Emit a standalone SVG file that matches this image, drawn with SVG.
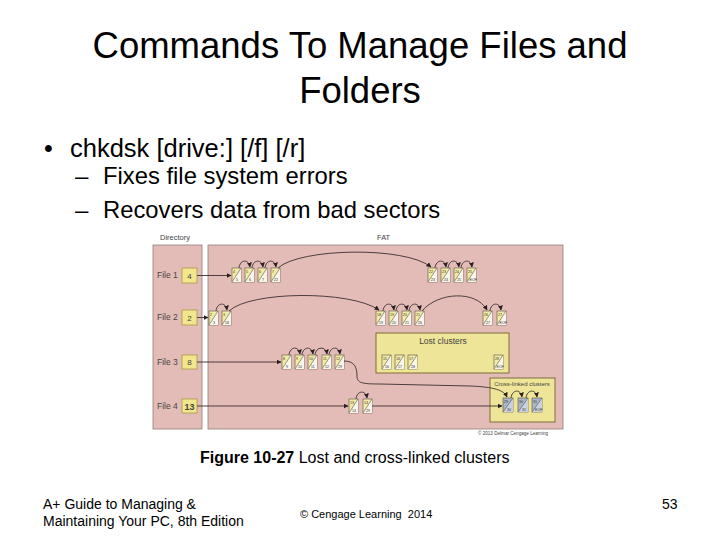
<svg xmlns="http://www.w3.org/2000/svg" width="720" height="540" viewBox="0 0 720 540">
<defs>
<style>
.t{font-family:"Liberation Sans",Arial,sans-serif;fill:#000}
.fig{font-family:"Liberation Sans",Arial,sans-serif;fill:#444}
.panel{fill:#e4bcb7;stroke:#8e7e7c;stroke-width:0.8}
.fbox{fill:#f2e68c;stroke:#a8984a;stroke-width:0.8}
.grp{fill:#efe598;stroke:#7d6f3a;stroke-width:1}
.cl rect{fill:#f3eba4;stroke:#6d6450;stroke-width:0.7}
.cl polygon{fill:#f8f6ea}
.cl line{stroke:#555;stroke-width:0.6}
.cl text{font-family:"Liberation Sans",Arial,sans-serif;font-size:3.6px;fill:#333}
.xl rect{fill:#aab5c9}
.xl polygon{fill:#c9d1de}
.con path{fill:none;stroke:#3a3030;stroke-width:0.9}
</style>
<marker id="ah" markerUnits="userSpaceOnUse" markerWidth="5" markerHeight="5" viewBox="0 0 10 10" refX="9" refY="5" orient="auto">
<path d="M0,0 L10,5 L0,10 z" fill="#2a2020"/>
</marker>
</defs>
<rect width="720" height="540" fill="#fff"/>

<g id="title">
<text class="t" x="360" y="58" font-size="36.5" text-anchor="middle">Commands To Manage Files and</text>
<text class="t" x="360" y="103" font-size="36.5" text-anchor="middle">Folders</text>
</g>
<g id="bullets">
<text class="t" x="44" y="157" font-size="25">•</text>
<text class="t" x="70" y="157" font-size="25.5">chkdsk [drive:] [/f] [/r]</text>
<text class="t" x="75" y="184" font-size="24">–</text>
<text class="t" x="103" y="184" font-size="23.8">Fixes file system errors</text>
<text class="t" x="75" y="218" font-size="24">–</text>
<text class="t" x="103" y="218" font-size="23.8">Recovers data from bad sectors</text>
</g>

<g id="figure">
<text class="fig" x="160" y="240" font-size="7.5">Directory</text>
<text class="fig" x="377" y="240" font-size="7.5">FAT</text>
<rect id="dirPanel" class="panel" x="153" y="245" width="49" height="184"/>
<rect id="fatPanel" class="panel" x="208" y="245" width="355" height="184"/>

<g id="lost">
<rect class="grp" x="376" y="333" width="133" height="40"/>
<text class="fig" x="443" y="344" font-size="8.5" text-anchor="middle" fill="#333">Lost clusters</text>
</g>
<g id="crosslinked">
<rect class="grp" x="490" y="378" width="65" height="44"/>
<text class="fig" x="522" y="385.5" font-size="6" text-anchor="middle" fill="#333">Cross-linked clusters</text>
</g>

<g id="file1">
<text class="fig" x="157" y="278" font-size="8.5">File 1</text>
<rect class="fbox" x="182" y="268" width="15" height="15"/>
<text class="fig" x="189.5" y="278.5" font-size="8" text-anchor="middle">4</text>
</g>
<g id="file2">
<text class="fig" x="157" y="320" font-size="8.5">File 2</text>
<rect class="fbox" x="182" y="310" width="15" height="15"/>
<text class="fig" x="189.5" y="320.5" font-size="8" text-anchor="middle">2</text>
</g>
<g id="file3">
<text class="fig" x="157" y="365" font-size="8.5">File 3</text>
<rect class="fbox" x="182" y="355" width="15" height="14"/>
<text class="fig" x="189.5" y="365" font-size="8" text-anchor="middle">8</text>
</g>
<g id="file4">
<text class="fig" x="157" y="409" font-size="8.5">File 4</text>
<rect class="fbox" x="182" y="399" width="15" height="14"/>
<text class="fig" x="189.5" y="409.5" font-size="9" font-weight="bold" text-anchor="middle" fill="#333">13</text>
</g>

<g id="clusters">
<g class="cl" transform="translate(232,268)"><rect width="9" height="14"/><polygon points="9,0 9,14 0,14"/><line x1="0" y1="14" x2="9" y2="0"/><text x="1" y="4.5">4</text><text x="4" y="12.5">5</text></g>
<g class="cl" transform="translate(245,268)"><rect width="9" height="14"/><polygon points="9,0 9,14 0,14"/><line x1="0" y1="14" x2="9" y2="0"/><text x="1" y="4.5">5</text><text x="4" y="12.5">6</text></g>
<g class="cl" transform="translate(258,268)"><rect width="9" height="14"/><polygon points="9,0 9,14 0,14"/><line x1="0" y1="14" x2="9" y2="0"/><text x="1" y="4.5">6</text><text x="4" y="12.5">7</text></g>
<g class="cl" transform="translate(271,268)"><rect width="9" height="14"/><polygon points="9,0 9,14 0,14"/><line x1="0" y1="14" x2="9" y2="0"/><text x="1" y="4.5">7</text><text x="3" y="12.5">22</text></g>
<g class="cl" transform="translate(428,268)"><rect width="9" height="14"/><polygon points="9,0 9,14 0,14"/><line x1="0" y1="14" x2="9" y2="0"/><text x="1" y="4.5">22</text><text x="3" y="12.5">23</text></g>
<g class="cl" transform="translate(441,268)"><rect width="9" height="14"/><polygon points="9,0 9,14 0,14"/><line x1="0" y1="14" x2="9" y2="0"/><text x="1" y="4.5">23</text><text x="3" y="12.5">24</text></g>
<g class="cl" transform="translate(454,268)"><rect width="9" height="14"/><polygon points="9,0 9,14 0,14"/><line x1="0" y1="14" x2="9" y2="0"/><text x="1" y="4.5">24</text><text x="3" y="12.5">25</text></g>
<g class="cl" transform="translate(467,268)"><rect width="9" height="14"/><polygon points="9,0 9,14 0,14"/><line x1="0" y1="14" x2="9" y2="0"/><text x="1" y="4.5">25</text><text x="2.5" y="12.5">EOF</text></g>

<g class="cl" transform="translate(209,311)"><rect width="9" height="14"/><polygon points="9,0 9,14 0,14"/><line x1="0" y1="14" x2="9" y2="0"/><text x="1" y="4.5">2</text><text x="4" y="12.5">3</text></g>
<g class="cl" transform="translate(222,311)"><rect width="9" height="14"/><polygon points="9,0 9,14 0,14"/><line x1="0" y1="14" x2="9" y2="0"/><text x="1" y="4.5">3</text><text x="3" y="12.5">18</text></g>
<g class="cl" transform="translate(376,311)"><rect width="9" height="14"/><polygon points="9,0 9,14 0,14"/><line x1="0" y1="14" x2="9" y2="0"/><text x="1" y="4.5">18</text><text x="3" y="12.5">19</text></g>
<g class="cl" transform="translate(389,311)"><rect width="9" height="14"/><polygon points="9,0 9,14 0,14"/><line x1="0" y1="14" x2="9" y2="0"/><text x="1" y="4.5">19</text><text x="3" y="12.5">20</text></g>
<g class="cl" transform="translate(402,311)"><rect width="9" height="14"/><polygon points="9,0 9,14 0,14"/><line x1="0" y1="14" x2="9" y2="0"/><text x="1" y="4.5">20</text><text x="3" y="12.5">21</text></g>
<g class="cl" transform="translate(415,311)"><rect width="9" height="14"/><polygon points="9,0 9,14 0,14"/><line x1="0" y1="14" x2="9" y2="0"/><text x="1" y="4.5">21</text><text x="3" y="12.5">26</text></g>
<g class="cl" transform="translate(483,311)"><rect width="9" height="14"/><polygon points="9,0 9,14 0,14"/><line x1="0" y1="14" x2="9" y2="0"/><text x="1" y="4.5">26</text><text x="3" y="12.5">27</text></g>
<g class="cl" transform="translate(497,311)"><rect width="9" height="14"/><polygon points="9,0 9,14 0,14"/><line x1="0" y1="14" x2="9" y2="0"/><text x="1" y="4.5">27</text><text x="2.5" y="12.5">EOF</text></g>

<g class="cl" transform="translate(282,355)"><rect width="9" height="14"/><polygon points="9,0 9,14 0,14"/><line x1="0" y1="14" x2="9" y2="0"/><text x="1" y="4.5">8</text><text x="4" y="12.5">9</text></g>
<g class="cl" transform="translate(295,355)"><rect width="9" height="14"/><polygon points="9,0 9,14 0,14"/><line x1="0" y1="14" x2="9" y2="0"/><text x="1" y="4.5">9</text><text x="3" y="12.5">10</text></g>
<g class="cl" transform="translate(308,355)"><rect width="9" height="14"/><polygon points="9,0 9,14 0,14"/><line x1="0" y1="14" x2="9" y2="0"/><text x="1" y="4.5">10</text><text x="3" y="12.5">11</text></g>
<g class="cl" transform="translate(322,355)"><rect width="9" height="14"/><polygon points="9,0 9,14 0,14"/><line x1="0" y1="14" x2="9" y2="0"/><text x="1" y="4.5">11</text><text x="3" y="12.5">12</text></g>
<g class="cl" transform="translate(335,355)"><rect width="9" height="14"/><polygon points="9,0 9,14 0,14"/><line x1="0" y1="14" x2="9" y2="0"/><text x="1" y="4.5">12</text><text x="3" y="12.5">29</text></g>

<g class="cl" transform="translate(382,355)"><rect width="9" height="14"/><polygon points="9,0 9,14 0,14"/><line x1="0" y1="14" x2="9" y2="0"/><text x="1" y="4.5">15</text><text x="3" y="12.5">16</text></g>
<g class="cl" transform="translate(395,355)"><rect width="9" height="14"/><polygon points="9,0 9,14 0,14"/><line x1="0" y1="14" x2="9" y2="0"/><text x="1" y="4.5">16</text><text x="3" y="12.5">17</text></g>
<g class="cl" transform="translate(408,355)"><rect width="9" height="14"/><polygon points="9,0 9,14 0,14"/><line x1="0" y1="14" x2="9" y2="0"/><text x="1" y="4.5">17</text><text x="3" y="12.5">28</text></g>
<g class="cl" transform="translate(494,355)"><rect width="9" height="14"/><polygon points="9,0 9,14 0,14"/><line x1="0" y1="14" x2="9" y2="0"/><text x="1" y="4.5">28</text><text x="2.5" y="12.5">EOF</text></g>

<g class="cl" transform="translate(349,399)"><rect width="9" height="14"/><polygon points="9,0 9,14 0,14"/><line x1="0" y1="14" x2="9" y2="0"/><text x="1" y="4.5">13</text><text x="3" y="12.5">14</text></g>
<g class="cl" transform="translate(363,399)"><rect width="9" height="14"/><polygon points="9,0 9,14 0,14"/><line x1="0" y1="14" x2="9" y2="0"/><text x="1" y="4.5">14</text><text x="3" y="12.5">29</text></g>

<g class="cl xl" transform="translate(503,398)"><rect width="10" height="14"/><polygon points="10,0 10,14 0,14"/><line x1="0" y1="14" x2="10" y2="0"/><text x="1" y="4.5">29</text><text x="4" y="12.5">30</text></g>
<g class="cl xl" transform="translate(518,398)"><rect width="10" height="14"/><polygon points="10,0 10,14 0,14"/><line x1="0" y1="14" x2="10" y2="0"/><text x="1" y="4.5">30</text><text x="4" y="12.5">31</text></g>
<g class="cl xl" transform="translate(532,398)"><rect width="10" height="14"/><polygon points="10,0 10,14 0,14"/><line x1="0" y1="14" x2="10" y2="0"/><text x="1" y="4.5">31</text><text x="3" y="12.5">EOF</text></g>
</g>

<g id="connectors" class="con">
<path d="M197,275.5 L231,275.5" marker-end="url(#ah)"/>
<path d="M197,317.5 L208,317.5" marker-end="url(#ah)"/>
<path d="M197,362 L281,362" marker-end="url(#ah)"/>
<path d="M197,406 L348,406" marker-end="url(#ah)"/>
<path d="M239,268 C240,259 249,259 250,267" marker-end="url(#ah)"/>
<path d="M252,268 C253,259 262,259 263,267" marker-end="url(#ah)"/>
<path d="M265,268 C266,259 275,259 276,267" marker-end="url(#ah)"/>
<path d="M278,268 C300,248 405,246 431,267" marker-end="url(#ah)"/>
<path d="M435,268 C436,259 445,259 446,267" marker-end="url(#ah)"/>
<path d="M448,268 C449,259 458,259 459,267" marker-end="url(#ah)"/>
<path d="M461,268 C462,259 471,259 472,267" marker-end="url(#ah)"/>
<path d="M216,311 C217,302 226,302 227,310" marker-end="url(#ah)"/>
<path d="M229,311 C250,291 350,290 379,310" marker-end="url(#ah)"/>
<path d="M383,311 C384,302 393,302 394,310" marker-end="url(#ah)"/>
<path d="M396,311 C397,302 406,302 407,310" marker-end="url(#ah)"/>
<path d="M409,311 C410,302 419,302 420,310" marker-end="url(#ah)"/>
<path d="M422,311 C438,292 476,290 487,310" marker-end="url(#ah)"/>
<path d="M490,311 C491,302 500,302 501,310" marker-end="url(#ah)"/>
<path d="M289,355 C290,346 299,346 300,354" marker-end="url(#ah)"/>
<path d="M302,355 C303,346 312,346 313,354" marker-end="url(#ah)"/>
<path d="M315,355 C316,346 326,346 327,354" marker-end="url(#ah)"/>
<path d="M329,355 C330,346 339,346 340,354" marker-end="url(#ah)"/>
<path d="M344,361 C355,361 357,368 357,376 C357,383 362,384 380,384 L470,386 C494,387 504,390 507,397" marker-end="url(#ah)"/>
<path d="M356,399 C357,390 366,390 367,398" marker-end="url(#ah)"/>
<path d="M372,406 L502,406" marker-end="url(#ah)"/>
<path d="M511,398 C512,389 521,389 522,397" marker-end="url(#ah)"/>
<path d="M526,398 C527,389 536,389 537,397" marker-end="url(#ah)"/>
</g>
<text class="fig" x="478" y="435" font-size="4.6" fill="#666">© 2013 Delmar Cengage Learning</text>
</g>

<g id="caption">
<text class="t" x="200" y="463" font-size="16"><tspan font-weight="bold">Figure 10-27</tspan> Lost and cross-linked clusters</text>
</g>
<g id="footer">
<text class="t" x="43" y="509" font-size="14">A+ Guide to Managing &amp;</text>
<text class="t" x="43" y="526" font-size="14">Maintaining Your PC, 8th Edition</text>
<text class="t" x="300" y="518" font-size="11" xml:space="preserve">© Cengage Learning  2014</text>
<text class="t" x="662" y="509" font-size="14">53</text>
</g>
</svg>
